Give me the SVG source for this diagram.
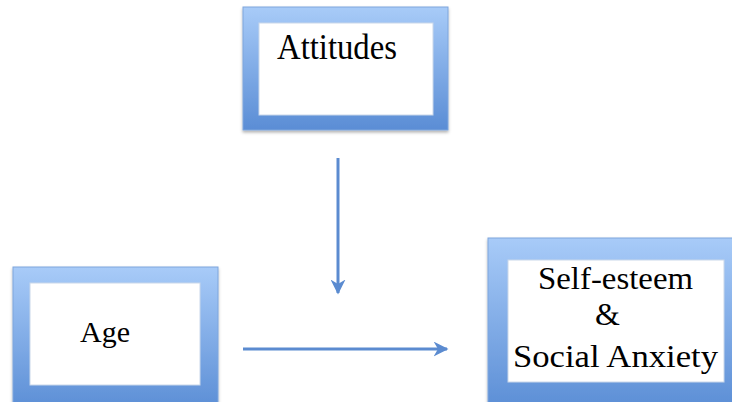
<svg xmlns="http://www.w3.org/2000/svg" width="732" height="402" viewBox="0 0 732 402">
<defs>
<linearGradient id="bg" x1="0" y1="0" x2="0" y2="1">
<stop offset="0" stop-color="#a8cbf8"/>
<stop offset="1" stop-color="#5a8dd5"/>
</linearGradient>
<filter id="sh" x="-10%" y="-10%" width="120%" height="120%">
<feDropShadow dx="0" dy="2" stdDeviation="1.5" flood-color="#000" flood-opacity="0.3"/>
</filter>
<marker id="ah" viewBox="0 0 10 10" refX="9" refY="5" markerWidth="5" markerHeight="5" orient="auto" markerUnits="strokeWidth">
<path d="M0,0 L10,5 L0,10 L3,5 Z" fill="#5b8bd0"/>
</marker>
</defs>
<style>
.outer{fill:url(#bg);stroke:#7fa6dc;stroke-width:1;filter:url(#sh)}
.inner{fill:#fff;stroke:#c9d7ea;stroke-width:1}
.t{font-family:"Liberation Serif","Times New Roman",serif;fill:#000}
.c{stroke:#5b8bd0;stroke-width:3;fill:none;marker-end:url(#ah)}
</style>
<g id="attitudes">
<rect class="outer" x="243" y="7" width="205" height="123"/>
<rect class="inner" x="259" y="23" width="174" height="92"/>
<text class="t" x="277" y="59" font-size="35" textLength="120" lengthAdjust="spacingAndGlyphs">Attitudes</text>
</g>
<g id="age">
<rect class="outer" x="13" y="267" width="205" height="145"/>
<rect class="inner" x="30" y="283" width="170" height="102"/>
<text class="t" x="80" y="342" font-size="30">Age</text>
</g>
<g id="outcome">
<rect class="outer" x="488" y="238" width="254" height="174"/>
<rect class="inner" x="508" y="260" width="216" height="122"/>
<text class="t" x="538" y="289" font-size="32" textLength="155" lengthAdjust="spacingAndGlyphs">Self-esteem</text>
<text class="t" x="595" y="325" font-size="32">&amp;</text>
<text class="t" x="513" y="367" font-size="32" textLength="205" lengthAdjust="spacingAndGlyphs">Social Anxiety</text>
</g>
<g id="connectors">
<line class="c" x1="338" y1="158" x2="338" y2="293"/>
<line class="c" x1="243" y1="349" x2="447" y2="349"/>
</g>
</svg>
